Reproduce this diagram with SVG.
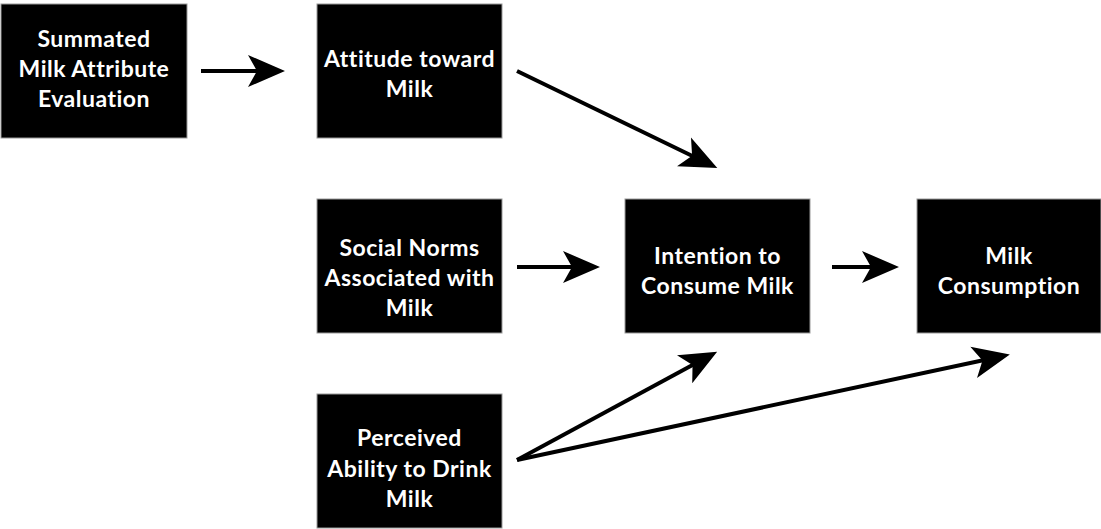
<svg xmlns="http://www.w3.org/2000/svg" width="1101" height="529" viewBox="0 0 1101 529">
<style>
.box{fill:#000;stroke:#999;stroke-width:1}
.t{fill:#fff;font-family:Lato,"Open Sans",sans-serif;font-weight:bold;font-size:23px;letter-spacing:0.5px;text-anchor:middle}
.c{stroke:#000;stroke-width:4;fill:none}
</style>
<defs>
<marker id="ah" markerUnits="userSpaceOnUse" markerWidth="40" markerHeight="34" refX="30" refY="16" orient="auto" viewBox="0 0 40 34" overflow="visible">
<path d="M37,16 L0,0 L9,16 L0,32 Z" fill="#000"/>
</marker>
</defs>
<rect width="1101" height="529" fill="#fff"/>
<g id="connectors">
<line class="c" x1="201" y1="71" x2="278" y2="71" marker-end="url(#ah)"/>
<line class="c" x1="517" y1="71" x2="711" y2="165" marker-end="url(#ah)"/>
<line class="c" x1="517" y1="267" x2="593" y2="267" marker-end="url(#ah)"/>
<line class="c" x1="832" y1="267" x2="892" y2="267" marker-end="url(#ah)"/>
<line class="c" x1="517" y1="460" x2="711" y2="355" marker-end="url(#ah)"/>
<line class="c" x1="517" y1="460" x2="1003" y2="356" marker-end="url(#ah)"/>
</g>
<g id="n1"><rect class="box" x="1" y="4" width="186" height="134"/>
<text class="t" x="94" y="47">Summated</text><text class="t" x="94" y="77">Milk Attribute</text><text class="t" x="94" y="107">Evaluation</text></g>
<g id="n2"><rect class="box" x="317" y="4" width="185" height="134"/>
<text class="t" x="409.5" y="67">Attitude toward</text><text class="t" x="409.5" y="97">Milk</text></g>
<g id="n3"><rect class="box" x="317" y="199" width="185" height="134"/>
<text class="t" x="409.5" y="256">Social Norms</text><text class="t" x="409.5" y="286">Associated with</text><text class="t" x="409.5" y="316">Milk</text></g>
<g id="n4"><rect class="box" x="625" y="199" width="185" height="134"/>
<text class="t" x="717.5" y="264">Intention to</text><text class="t" x="717.5" y="294">Consume Milk</text></g>
<g id="n5"><rect class="box" x="917" y="199" width="184" height="134"/>
<text class="t" x="1009" y="264">Milk</text><text class="t" x="1009" y="294">Consumption</text></g>
<g id="n6"><rect class="box" x="317" y="394" width="185" height="134"/>
<text class="t" x="409.5" y="446">Perceived</text><text class="t" x="409.5" y="477">Ability to Drink</text><text class="t" x="409.5" y="507">Milk</text></g>
</svg>
